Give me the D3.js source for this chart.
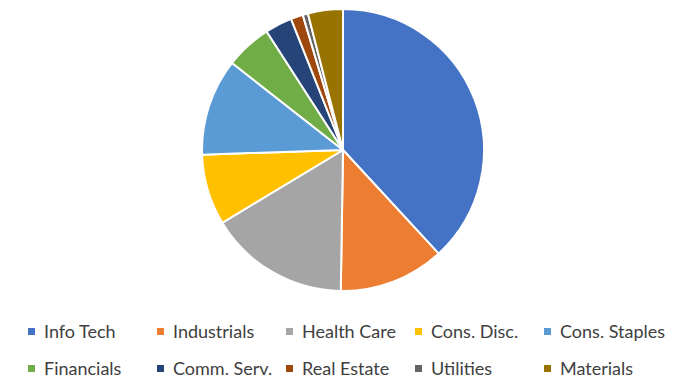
<!DOCTYPE html>
<html>
<head>
<meta charset="utf-8">
<script src="https://cdn.jsdelivr.net/npm/d3@7"></script>
<style>
  body { margin: 0; background: #fff; }
  #chart { width: 681px; height: 378px; }
</style>
</head>
<body>
<div id="chart"></div>
<script>
// sectors and their share (%)
const sectors = ["Info Tech", "Industrials", "Health Care", "Cons. Disc.", "Cons. Staples",
                 "Financials", "Comm. Serv.", "Real Estate", "Utilities", "Materials"];
const shares = [38.1, 12.1, 16.1, 8.1, 11.1, 5.3, 3.1, 1.4, 0.6, 4.0];
const colors = ["#4472C4", "#ED7D31", "#A5A5A5", "#FFC000", "#5B9BD5",
                "#70AD47", "#264478", "#9E480E", "#636363", "#997300"];

const width = 681, height = 378;
const cx = 343, cy = 150, radius = 141;

const svg = d3.select("#chart").append("svg")
    .attr("width", width)
    .attr("height", height);

const data = sectors.map((s, i) => ({ name: s, value: shares[i], color: colors[i] }));

// pie layout, clockwise from 12 o'clock
const pie = d3.pie().sort(null).value(d => d.value);
const arc = d3.arc().innerRadius(0).outerRadius(radius);

const g = svg.append("g").attr("transform", `translate(${cx},${cy})`);

g.selectAll("path")
    .data(pie(data))
    .enter()
    .append("path")
    .attr("d", arc)
    .attr("fill", d => d.data.color)
    .attr("stroke", "#fff")
    .attr("stroke-width", 2)
    .attr("stroke-linejoin", "round");

// legend, two rows of five
const colX = d3.scaleBand().domain(d3.range(5)).range([28, 673]);
const rowY = d3.scalePoint().domain([0, 1]).range([332, 369]);

const items = svg.selectAll(".legend-item")
    .data(data)
    .enter()
    .append("g")
    .attr("class", "legend-item")
    .attr("transform", (d, i) => `translate(${colX(i % 5)},${rowY(Math.floor(i / 5))})`);

items.append("rect")
    .attr("x", 0)
    .attr("y", -4)
    .attr("width", 7)
    .attr("height", 7)
    .attr("fill", d => d.color);

items.append("text")
    .attr("x", 16)
    .attr("y", 0)
    .attr("dy", "0.35em")
    .attr("font-family", "Lato, 'Open Sans', sans-serif")
    .attr("font-size", "18px")
    .attr("fill", "#404040")
    .text(d => d.name);
</script>
</body>
</html>
